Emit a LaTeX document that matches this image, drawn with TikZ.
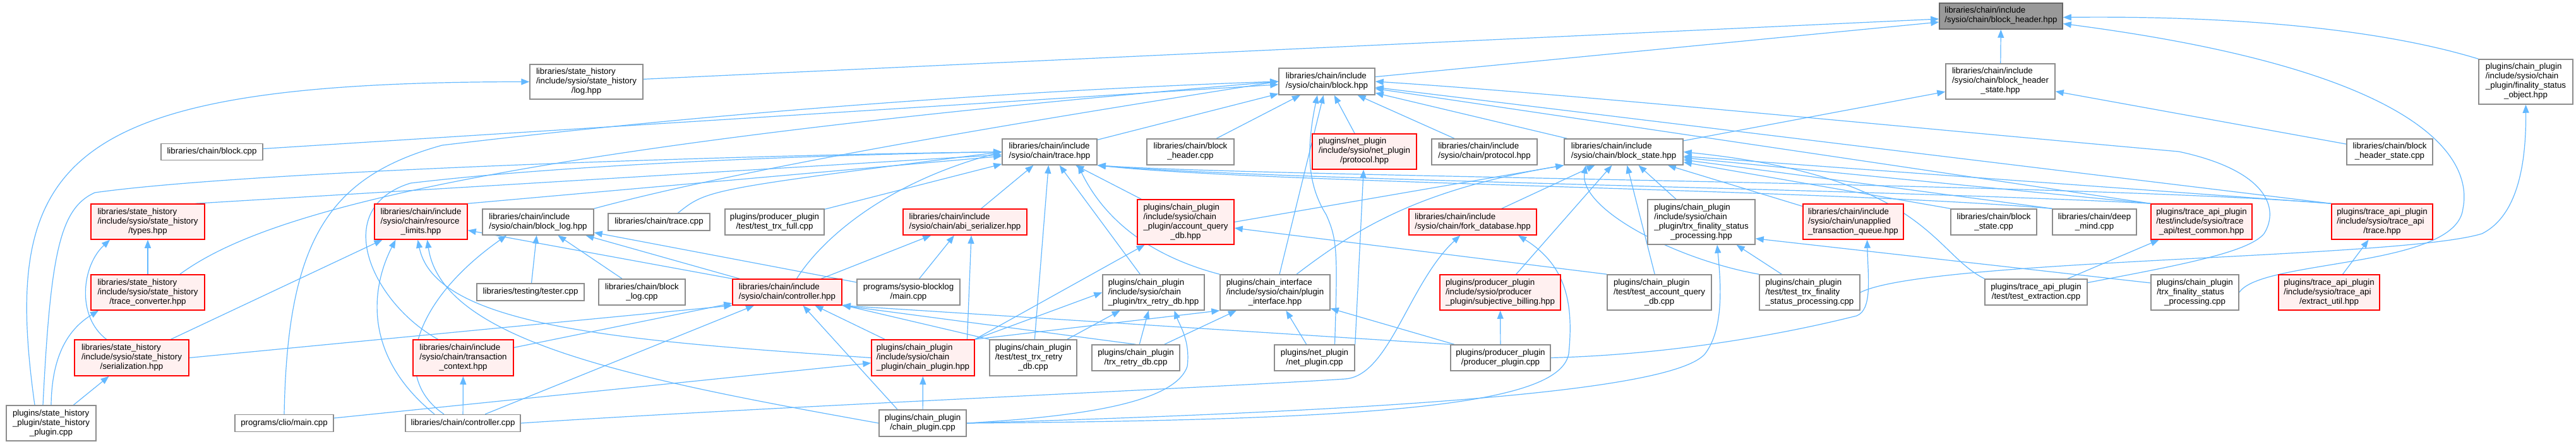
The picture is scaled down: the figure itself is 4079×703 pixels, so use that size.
\documentclass[tikz,border=0pt]{standalone}
\usepackage{fontspec}
\newfontfamily\arl{Liberation Sans}
\usetikzlibrary{arrows.meta}
\definecolor{edgec}{HTML}{63B8FF}
\definecolor{nborder}{HTML}{8C8C8C}
\definecolor{rfill}{HTML}{FFF0F0}
\definecolor{mfill}{HTML}{999999}
\definecolor{mborder}{HTML}{666666}
\newcommand\Lbl[2]{\begin{tabular}{@{}l@{}}#1\\\multicolumn{1}{@{}c@{}}{#2}\end{tabular}}
\newcommand\Nd[7]{\node[#6,minimum width=#4pt,minimum height=#5pt] (#1) at (#2,#3) {#7};}
\pgfdeclarelayer{bg}
\pgfsetlayers{bg,main}
\begin{document}
\begin{tikzpicture}[x=1pt,y=-1pt,
  every node/.style={font=\arl\fontsize{13.3}{15}\selectfont, inner xsep=2pt, inner ysep=2pt},
  nb/.style={draw=nborder,fill=white,line width=1.5pt},
  rb/.style={draw=red,fill=rfill,line width=1.5pt},
  mb/.style={draw=mborder,fill=mfill,line width=1.5pt},
  ed/.style={draw=edgec,line width=1.2pt,-{Triangle[length=13pt,width=10pt]}}]
\useasboundingbox (0,0) rectangle (4079,703);
% row 0
\Nd{T}{3168.5}{25.5}{195}{41}{mb}{\Lbl{libraries/chain/include}{/sysio/chain/block\_header.hpp}}
% row 1
\Nd{LOG}{928.5}{129.5}{179}{55}{nb}{\Lbl{libraries/state\_history\\/include/sysio/state\_history}{/log.hpp}}
\Nd{B}{2101}{129}{152}{42}{nb}{\Lbl{libraries/chain/include}{/sysio/chain/block.hpp}}
\Nd{BHS}{3167.5}{129}{173}{56}{nb}{\Lbl{libraries/chain/include\\/sysio/chain/block\_header}{\_state.hpp}}
\Nd{FSO}{3999.5}{129.5}{149}{71}{nb}{\Lbl{plugins/chain\_plugin\\/include/sysio/chain\\\_plugin/finality\_status}{\_object.hpp}}
% row 2
\Nd{BCPP}{335.5}{240.5}{161}{26}{nb}{libraries/chain/block.cpp}
\Nd{TR}{1662}{240.5}{150}{41}{nb}{\Lbl{libraries/chain/include}{/sysio/chain/trace.hpp}}
\Nd{BHCPP}{1885}{240.5}{138}{41}{nb}{\Lbl{libraries/chain/block}{\_header.cpp}}
\Nd{NETPROTO}{2160.5}{240}{165}{56}{rb}{\Lbl{plugins/net\_plugin\\/include/sysio/net\_plugin}{/protocol.hpp}}
\Nd{CPROTO}{2350.5}{240.5}{167}{41}{nb}{\Lbl{libraries/chain/include}{/sysio/chain/protocol.hpp}}
\Nd{BS}{2571}{240.5}{188}{41}{nb}{\Lbl{libraries/chain/include}{/sysio/chain/block\_state.hpp}}
\Nd{BHSCPP}{3784}{240.5}{136}{41}{nb}{\Lbl{libraries/chain/block}{\_header\_state.cpp}}
% row 3
\Nd{TYPES}{234}{351}{180}{56}{rb}{\Lbl{libraries/state\_history\\/include/sysio/state\_history}{/types.hpp}}
\Nd{RL}{666.5}{351}{147}{56}{rb}{\Lbl{libraries/chain/include\\/sysio/chain/resource}{\_limits.hpp}}
\Nd{BLOG}{852}{351.5}{176}{41}{nb}{\Lbl{libraries/chain/include}{/sysio/chain/block\_log.hpp}}
\Nd{TRCPP}{1043.5}{351.5}{161}{27}{nb}{libraries/chain/trace.cpp}
\Nd{TTFULL}{1226.5}{351.5}{157}{41}{nb}{\Lbl{plugins/producer\_plugin}{/test/test\_trx\_full.cpp}}
\Nd{ABI}{1528}{351.5}{196}{41}{rb}{\Lbl{libraries/chain/include}{/sysio/chain/abi\_serializer.hpp}}
\Nd{AQDB}{1877.5}{351.5}{153}{71}{rb}{\Lbl{plugins/chain\_plugin\\/include/sysio/chain\\\_plugin/account\_query}{\_db.hpp}}
\Nd{FORK}{2332}{351.5}{202}{41}{rb}{\Lbl{libraries/chain/include}{/sysio/chain/fork\_database.hpp}}
\Nd{TFSPH}{2694}{351.5}{170}{71}{nb}{\Lbl{plugins/chain\_plugin\\/include/sysio/chain\\\_plugin/trx\_finality\_status}{\_processing.hpp}}
\Nd{UTQ}{2934.5}{351}{159}{56}{rb}{\Lbl{libraries/chain/include\\/sysio/chain/unapplied}{\_transaction\_queue.hpp}}
\Nd{BSCPP}{3157}{351.5}{136}{41}{nb}{\Lbl{libraries/chain/block}{\_state.cpp}}
\Nd{DMCPP}{3316.5}{351.5}{133}{41}{nb}{\Lbl{libraries/chain/deep}{\_mind.cpp}}
\Nd{TCOMMON}{3486}{351}{160}{56}{rb}{\Lbl{plugins/trace\_api\_plugin\\/test/include/sysio/trace}{\_api/test\_common.hpp}}
\Nd{TAPI}{3772}{351}{160}{56}{rb}{\Lbl{plugins/trace\_api\_plugin\\/include/sysio/trace\_api}{/trace.hpp}}
% row 4
\Nd{TCONV}{234}{463}{180}{56}{rb}{\Lbl{libraries/state\_history\\/include/sysio/state\_history}{/trace\_converter.hpp}}
\Nd{TESTER}{840}{462.5}{170}{27}{nb}{libraries/testing/tester.cpp}
\Nd{BLOGCPP}{1016.5}{462.5}{137}{41}{nb}{\Lbl{libraries/chain/block}{\_log.cpp}}
\Nd{CTRLH}{1246.5}{462.5}{173}{41}{rb}{\Lbl{libraries/chain/include}{/sysio/chain/controller.hpp}}
\Nd{BLOGMAIN}{1438.5}{462.5}{163}{41}{nb}{\Lbl{programs/sysio-blocklog}{/main.cpp}}
\Nd{TRDBH}{1826.5}{463}{161}{56}{nb}{\Lbl{plugins/chain\_plugin\\/include/sysio/chain}{\_plugin/trx\_retry\_db.hpp}}
\Nd{CIF}{2019}{463}{174}{56}{nb}{\Lbl{plugins/chain\_interface\\/include/sysio/chain/plugin}{\_interface.hpp}}
\Nd{SB}{2375.5}{463}{191}{56}{rb}{\Lbl{plugins/producer\_plugin\\/include/sysio/producer}{\_plugin/subjective\_billing.hpp}}
\Nd{TAQDB}{2627.5}{463}{165}{56}{nb}{\Lbl{plugins/chain\_plugin\\/test/test\_account\_query}{\_db.cpp}}
\Nd{TTFSP}{2865.5}{463}{159}{56}{nb}{\Lbl{plugins/chain\_plugin\\/test/test\_trx\_finality}{\_status\_processing.cpp}}
\Nd{TEXTR}{3224}{462.5}{162}{41}{nb}{\Lbl{plugins/trace\_api\_plugin}{/test/test\_extraction.cpp}}
\Nd{TFSPCPP}{3475.5}{463}{139}{56}{nb}{\Lbl{plugins/chain\_plugin\\/trx\_finality\_status}{\_processing.cpp}}
\Nd{EXU}{3688}{463}{160}{56}{rb}{\Lbl{plugins/trace\_api\_plugin\\/include/sysio/trace\_api}{/extract\_util.hpp}}
% row 5
\Nd{SER}{208.5}{566.5}{181}{57}{rb}{\Lbl{libraries/state\_history\\/include/sysio/state\_history}{/serialization.hpp}}
\Nd{TCTX}{733.5}{566.5}{159}{57}{rb}{\Lbl{libraries/chain/include\\/sysio/chain/transaction}{\_context.hpp}}
\Nd{CPH}{1461.5}{566.5}{163}{57}{rb}{\Lbl{plugins/chain\_plugin\\/include/sysio/chain}{\_plugin/chain\_plugin.hpp}}
\Nd{TTRDB}{1636}{566.5}{138}{57}{nb}{\Lbl{plugins/chain\_plugin\\/test/test\_trx\_retry}{\_db.cpp}}
\Nd{TRDBCPP}{1798.5}{566.5}{139}{41}{nb}{\Lbl{plugins/chain\_plugin}{/trx\_retry\_db.cpp}}
\Nd{NETCPP}{2081.5}{566.5}{127}{41}{nb}{\Lbl{plugins/net\_plugin}{/net\_plugin.cpp}}
\Nd{PPCPP}{2376}{566.5}{158}{41}{nb}{\Lbl{plugins/producer\_plugin}{/producer\_plugin.cpp}}
% row 6
\Nd{SHPCPP}{81}{670}{142}{56}{nb}{\Lbl{plugins/state\_history\\\_plugin/state\_history}{\_plugin.cpp}}
\Nd{CLIO}{450}{670}{156}{27}{nb}{programs/clio/main.cpp}
\Nd{CTRLCPP}{733}{670}{182}{27}{nb}{libraries/chain/controller.cpp}
\Nd{CPCPP}{1461}{670}{138}{42}{nb}{\Lbl{plugins/chain\_plugin}{/chain\_plugin.cpp}}

\begin{pgfonlayer}{bg}
\fill[white] (0,0) rectangle (4079,703);
\foreach \a/\b in {BHS/T, B/T, LOG/T, BS/BHS, BHSCPP/BHS,
  BCPP/B, TR/B, BHCPP/B, NETPROTO/B, CPROTO/B, BS/B, CIF/B,
  TTFULL/TR, ABI/TR, AQDB/TR, TRDBH/TR, TTRDB/TR,
  TCONV/TYPES, CTRLH/ABI, BLOGMAIN/ABI,
  TESTER/BLOG, BLOGCPP/BLOG, BLOGMAIN/BLOG, CTRLH/BLOG,
  CTRLCPP/TCTX, CTRLCPP/CTRLH, CPH/CTRLH, TCTX/CTRLH, SER/RL,
  CPCPP/CPH, CLIO/CPH, TTRDB/TRDBH, TRDBCPP/TRDBH, TRDBCPP/CIF, PPCPP/CIF, NETCPP/CIF,
  PPCPP/SB, FORK/BS, SB/BS, TAQDB/BS, TFSPH/BS, UTQ/BS,
  TTFSP/TFSPH, TEXTR/TCOMMON, EXU/TAPI, SHPCPP/SER}
  \draw[ed] (\a) -- (\b);
\draw[ed] (RL.north east) -- (TR);
\draw[ed] ([xshift=-15pt]TYPES.north east) -- (TR);
\draw[ed] (CTRLH.north west) -- (RL);
\draw[ed] (SER.east) -- (CTRLH.south west);
\draw[ed] (NETCPP.north east) -- (NETPROTO);
\draw[ed] (CPH.north east) -- (TRDBH.west);
\draw[ed] (CPH.north east) -- (CIF.south west);
\draw[ed] (CPH.north east) -- (AQDB);
\draw[ed] ([xshift=70pt]CPH.north) -- ([xshift=10pt]ABI.south);
\draw[ed] ([xshift=-40pt]CPCPP.north) -- ([xshift=25pt]CTRLH.south);
\draw[ed] (TTRDB.north west) -- (CTRLH);
\draw[ed] (TRDBCPP.north) -- (CTRLH.south east);
\draw[ed] (PPCPP.north west) -- (CTRLH.south east);
\draw[ed] (TAQDB.north west) -- (AQDB);
\draw[ed] (AQDB.east) -- (BS.south west);
\draw[ed] (BSCPP.north west) -- (BS);
\draw[ed] (TCOMMON.north west) -- (BS);
\draw[ed] (DMCPP.north west) -- (BS);
\draw[ed] (TAPI.north west) -- (BS);
\draw[ed] (TCOMMON.north west) -- (B);
\draw[ed] (TAPI.north west) -- (B);
\draw[ed] ([yshift=15pt]TFSPCPP.west) -- ([yshift=10pt]TFSPH.south east);
% curves
\draw[ed] ([xshift=-26pt]SHPCPP.north) .. controls (0,250) and (100,130) .. (LOG.west);
\draw[ed] ([xshift=-13pt]SHPCPP.north) .. controls (80,400) and (95,330) .. (150,305) .. controls (400,270) and (1200,245) .. (TR.west);
\draw[ed] (SHPCPP.north) .. controls (82,560) and (110,520) .. ([xshift=-78pt]TCONV.south);
\draw[ed] ([xshift=-40pt]SER.north) .. controls (120,500) and (130,420) .. ([xshift=-60pt]TYPES.south);
\draw[ed] ([xshift=-40pt]TCONV.north east) .. controls (400,350) and (700,240) .. (B.west);
\draw[ed] (CLIO.north) .. controls (455,380) and (520,280) .. (700,230) .. controls (1200,170) and (1700,140) .. (B.west);
\draw[ed] (BLOG.north east) .. controls (1200,260) and (1700,180) .. (B.west);
\draw[ed] (CIF.north west) .. controls (1800,400) and (1740,330) .. ([xshift=45pt]TR.south);
\draw[ed] ([xshift=15pt]CTRLH.north) .. controls (1300,380) and (1400,290) .. (TR.west);
\draw[ed] ([xshift=30pt]TRCPP.north) .. controls (1120,300) .. (TR.west);
\draw[ed] ([xshift=-40pt]TCTX.north) .. controls (590,480) and (520,330) .. (650,290) .. controls (900,260) and (1300,245) .. (TR.west);
\draw[ed] ([xshift=-45pt]CTRLCPP.north) .. controls (570,560) and (590,450) .. ([xshift=-40pt]RL.south);
\draw[ed] ([xshift=-30pt]CTRLCPP.north) .. controls (620,600) and (650,480) .. ([xshift=-50pt]BLOG.south);
\draw[ed] (CTRLCPP.east) .. controls (1200,645) and (1900,615) .. (2130,600) .. controls (2200,595) and (2230,450) .. ([xshift=-20pt]FORK.south);
\draw[ed] (CPH.west) .. controls (1000,540) and (690,520) .. ([xshift=-5pt]RL.south);
\draw[ed] (CPCPP.west) .. controls (1000,600) and (700,540) .. ([xshift=10pt]RL.south);
\draw[ed] (CPCPP.east) .. controls (1700,660) and (1860,640) .. (1880,580) .. controls (1885,540) and (1868,515) .. ([xshift=33pt]TRDBH.south);
\draw[ed] (CPCPP.east) .. controls (2200,650) and (2650,620) .. (2700,560) .. controls (2730,520) and (2725,450) .. ([xshift=25pt]TFSPH.south);
\draw[ed] (CPCPP.east) .. controls (2200,665) and (2470,640) .. (2484,560) .. controls (2492,480) and (2480,420) .. ([xshift=72pt]FORK.south);
\draw[ed] (PPCPP.east) .. controls (2700,560) and (2900,510) .. (2940,500) .. controls (2965,490) and (2958,440) .. ([xshift=22pt]UTQ.south);
\draw[ed] ([xshift=32pt]NETCPP.north) .. controls (2118,400) and (2118,380) .. (2100,340) .. controls (2075,300) and (2065,250) .. ([xshift=-15pt]B.south);
\draw[ed] ([xshift=34pt]CIF.north) .. controls (2150,360) and (2250,300) .. (BS.south west);
\draw[ed] (TTFSP.north west) .. controls (2650,410) and (2500,330) .. ([xshift=-60pt]BS.south);
\draw[ed] (TEXTR.north west) .. controls (3060,400) and (3050,280) .. (BS.east);
\draw[ed] ([yshift=15pt]TEXTR.east) .. controls (3450,420) and (3560,400) .. (3585,370) .. controls (3610,330) and (3590,270) .. (3450,240) .. controls (3000,200) and (2500,150) .. (B.east);
\draw[ed] (TCOMMON.north west) .. controls (3000,300) and (2000,285) .. (TR.south east);
\draw[ed] (DMCPP.north west) .. controls (2900,300) and (2000,290) .. (TR.south east);
\draw[ed] (TAPI.north west) .. controls (3300,290) and (2000,280) .. (TR.south east);
\draw[ed] (TFSPCPP.east) .. controls (3580,410) and (3890,425) .. (3900,330) .. controls (3910,280) and (3900,120) .. ([yshift=-12pt]T.east);
\draw[ed] (TTFSP.east) .. controls (3050,410) and (3800,410) .. (3930,370) .. controls (3990,340) and (4000,250) .. (FSO.south);
\draw[ed] (FSO.north west) .. controls (3750,40) and (3500,25) .. ([yshift=-2pt]T.east);
\end{pgfonlayer}
\end{tikzpicture}
\end{document}
